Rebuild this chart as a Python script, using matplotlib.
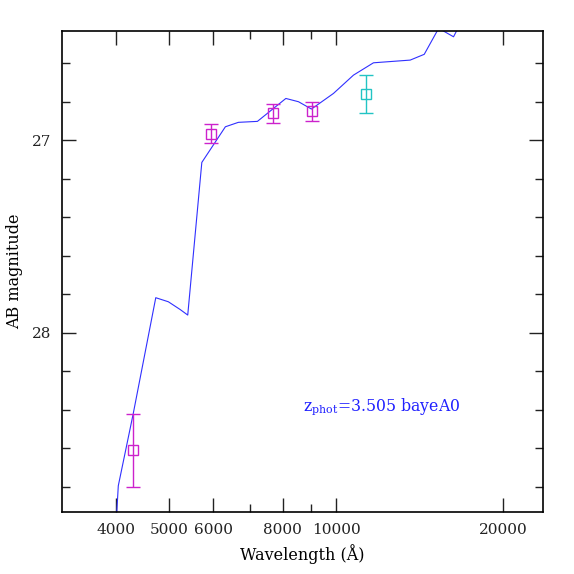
import matplotlib
matplotlib.use("Agg")
import matplotlib.pyplot as plt
from matplotlib.ticker import FixedLocator, NullFormatter, FixedFormatter

plt.rcParams["mathtext.fontset"] = "dejavuserif"

# modelo SED (curva azul)
sed_lam = [4005, 4043, 4303, 4724, 4977, 5226, 5395, 5720, 6308, 6658, 7206,
           8110, 8546, 9020, 9883, 10740, 11670, 13593, 14410, 15300, 16275, 16870]
sed_mag = [29.00, 28.794, 28.418, 27.818, 27.839, 27.879, 27.908, 27.116, 26.931,
           26.908, 26.903, 26.784, 26.801, 26.839, 26.758, 26.663, 26.599, 26.585,
           26.555, 26.420, 26.464, 26.377]

# fotometria observada
obs_lam = [4304, 5935, 7700, 9057]
obs_mag = [28.609, 26.966, 26.862, 26.851]
obs_err = [0.19, 0.049, 0.048, 0.049]

# punto cian
nir_lam = [11320]
nir_mag = [26.76]
nir_err = [0.099]

xticks_major = [4000, 5000, 6000, 8000, 10000, 20000]
xticks_minor = [7000, 9000]

fig = plt.figure(figsize=(5.74, 5.74), dpi=100)
ax = fig.add_axes([62/574, 62/574, 481/574, 481/574])

ax.plot(sed_lam, sed_mag, color="#3030ff", lw=0.8)

ax.errorbar(obs_lam, obs_mag, yerr=obs_err, fmt="s", mfc="none", mec="#cc22cc",
            ecolor="#cc22cc", ms=7, mew=1.0, capsize=4.7, elinewidth=1.0, capthick=1.0)
ax.errorbar(nir_lam, nir_mag, yerr=nir_err, fmt="s", mfc="none", mec="#22c4c4",
            ecolor="#22c4c4", ms=7, mew=1.0, capsize=4.7, elinewidth=1.0, capthick=1.0)

ax.set_xscale("log")
ax.set_xlim(3200, 23600)
ax.set_ylim(28.93, 26.434)

ax.xaxis.set_major_locator(FixedLocator(xticks_major))
ax.xaxis.set_major_formatter(FixedFormatter([str(v) for v in xticks_major]))
ax.xaxis.set_minor_locator(FixedLocator(xticks_minor))
ax.xaxis.set_minor_formatter(NullFormatter())

ax.yaxis.set_major_locator(FixedLocator([27, 28]))
ax.yaxis.set_minor_locator(FixedLocator([26.6, 26.8, 27.2, 27.4, 27.6, 27.8, 28.2, 28.4, 28.6, 28.8]))

ax.tick_params(which="both", direction="in", top=True, right=True, width=1.0, colors="#222222",
               labelsize=11, labelfontfamily="DejaVu Serif")
ax.tick_params(which="major", length=10, pad=8)
ax.tick_params(which="minor", length=6)
for s in ax.spines.values():
    s.set_linewidth(1.2)

ax.set_xlabel("Wavelength (Å)", family="DejaVu Serif", fontsize=11.5, labelpad=5)
ax.set_ylabel("AB magnitude", family="DejaVu Serif", fontsize=11.5, labelpad=6)

ax.text(0.501, 0.22, r"z$_{\rm phot}$=3.505 bayeA0", transform=ax.transAxes,
        color="#2020ff", family="DejaVu Serif", fontsize=11.3, va="center", ha="left")

fig.savefig("out.png", dpi=100)
